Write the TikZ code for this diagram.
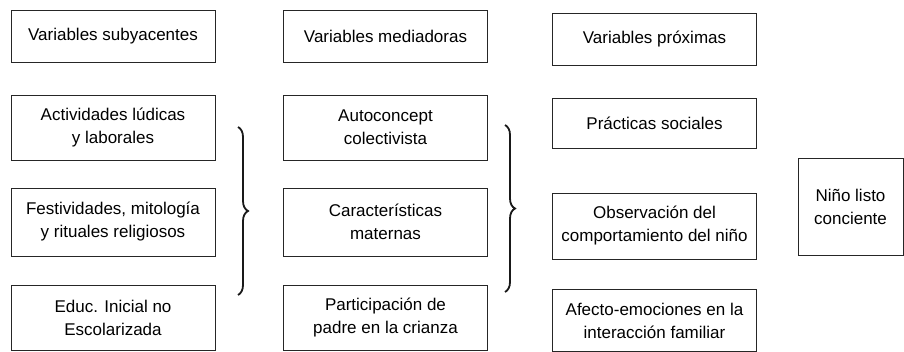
\documentclass[tikz,border=0pt]{standalone}
\usepackage{fontspec}
\setmainfont{Liberation Sans}
\usepackage{tikz}
\usetikzlibrary{decorations.pathreplacing}

\begin{document}
\begin{tikzpicture}
[x=1pt,y=-1pt
,vb/.style={draw=black!85,line width=0.8pt,align=center,inner sep=0pt,
  font=\fontsize{17}{23}\selectfont,minimum width=204pt}
,hd/.style={vb,minimum height=52pt}
,brc/.style={draw=black!90,line width=1.8pt,decorate,
  decoration={brace,amplitude=10pt,aspect=0.5}}]
\useasboundingbox (0,0) rectangle (904,352);
% subyacentes
\node[hd] (s0) at (113,36) {Variables subyacentes};
\node[vb,minimum height=65pt] (s1) at (113,127.5) {Actividades lúdicas\\y laborales};
\node[vb,minimum height=68pt] (s2) at (113,222) {Festividades, mitología\\y rituales religiosos};
\node[vb,minimum height=65pt] (s3) at (113,317.5) {Educ. Inicial no\\Escolarizada};
% mediadoras
\node[hd] (m0) at (385.5,36) {Variables mediadoras};
\node[vb,minimum height=65pt] (m1) at (385.5,127.5) {Autoconcept\\colectivista};
\node[vb,minimum height=68pt] (m2) at (385.5,222) {Características\\maternas};
\node[vb,minimum height=65pt] (m3) at (385.5,317.5) {Participación de\\padre en la crianza};
% proximas
\node[hd] (p0) at (654.5,39) {Variables próximas};
\node[vb,minimum height=50pt] (p1) at (654.5,123) {Prácticas sociales};
\node[vb,minimum height=66pt] (p2) at (654.5,226) {Observación del\\comportamiento del niño};
\node[vb,minimum height=62pt] (p3) at (654.5,320.5) {Afecto-emociones en la\\interacción familiar};
% resultado
\node[vb,minimum width=105pt,minimum height=97pt] (nl) at (850.5,206.5) {Niño listo\\conciente};
% llaves
\coordinate (b1a) at (238,127);
\coordinate (b1b) at (238,295);
\coordinate (b2a) at (505,125);
\coordinate (b2b) at (505,292);
\draw[brc] (b1a) -- (b1b);
\draw[brc] (b2a) -- (b2b);
\end{tikzpicture}
\end{document}
